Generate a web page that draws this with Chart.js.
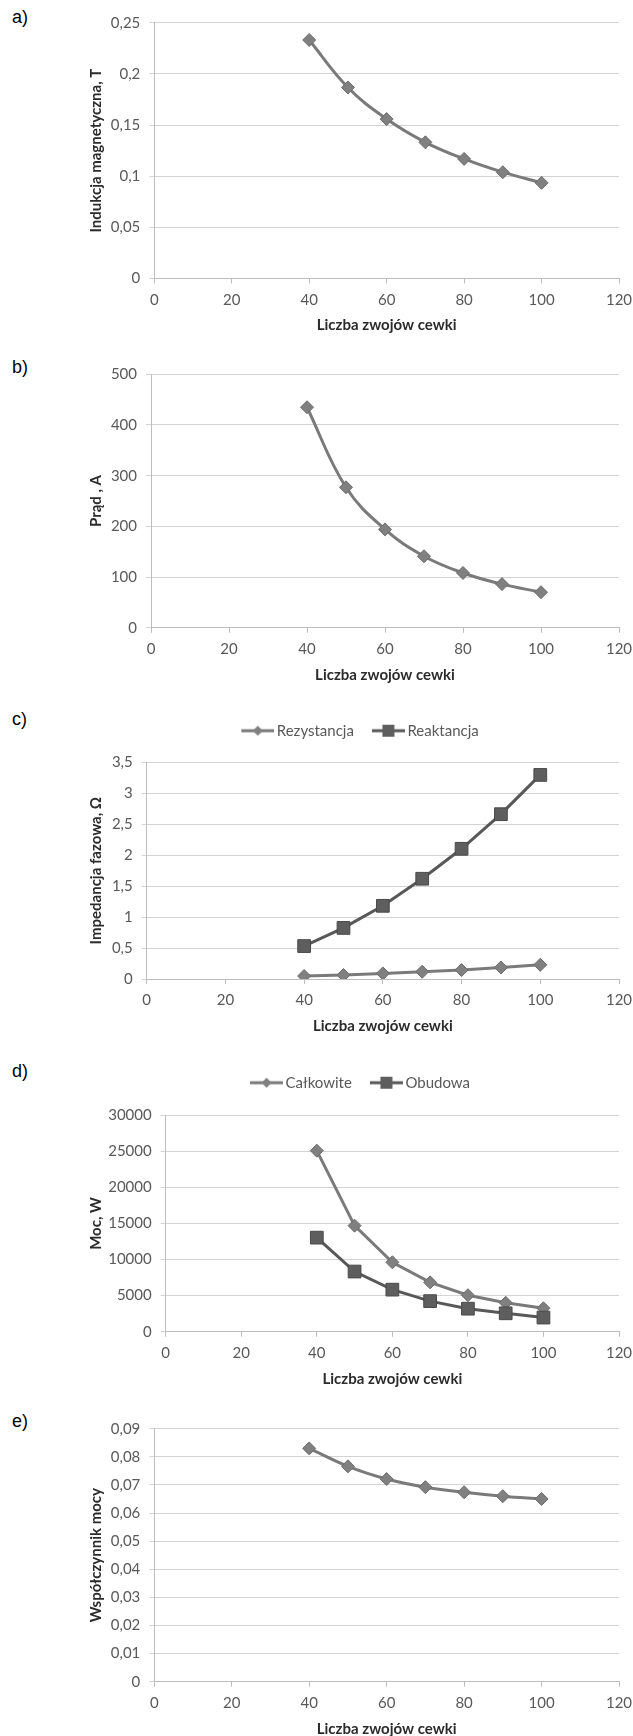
<!DOCTYPE html>
<html lang="pl">
<head>
<meta charset="utf-8">
<title>Charakterystyki cewki</title>
<script src="https://cdn.jsdelivr.net/npm/chart.js@4.4.1/dist/chart.umd.min.js"></script>
<style>
  html, body { margin: 0; padding: 0; background: #fff; overflow: hidden; }
  body { width: 633px; height: 1736px; position: relative; }
  .panel { position: absolute; left: 0; width: 633px; }
  .tag { position: absolute; left: 12px; font: 18px "Liberation Sans", Arial, sans-serif; line-height: 20px; color: #000; }
</style>
</head>
<body>
<div class="tag" style="top:7px">a)</div>
<div class="tag" style="top:357px">b)</div>
<div class="tag" style="top:709px">c)</div>
<div class="tag" style="top:1061px">d)</div>
<div class="tag" style="top:1411px">e)</div>

<div class="panel" style="top:0px;height:340px"><canvas id="chartA"></canvas></div>
<div class="panel" style="top:350px;height:340px"><canvas id="chartB"></canvas></div>
<div class="panel" style="top:690px;height:350px"><canvas id="chartC"></canvas></div>
<div class="panel" style="top:1045px;height:350px"><canvas id="chartD"></canvas></div>
<div class="panel" style="top:1400px;height:340px"><canvas id="chartE"></canvas></div>

<script>
// data
const turns = [40, 50, 60, 70, 80, 90, 100];
const induction = [0.2331, 0.1867, 0.1558, 0.1331, 0.1169, 0.1039, 0.0935];
const current = [435, 277, 194, 141, 108, 86, 70];
const resistance = [0.048, 0.064, 0.090, 0.117, 0.144, 0.186, 0.229];
const reactance = [0.532, 0.825, 1.182, 1.619, 2.103, 2.662, 3.296];
const powerTotal = [25100, 14700, 9620, 6840, 5060, 4010, 3250];
const powerHousing = [13040, 8340, 5830, 4240, 3190, 2550, 1960];
const powerFactor = [0.0830, 0.0766, 0.0721, 0.0692, 0.0674, 0.0660, 0.0650];

const xTicks = [0, 20, 40, 60, 80, 100, 120];
const yTicksA = [0, 0.05, 0.1, 0.15, 0.2, 0.25];
const yTicksB = [0, 100, 200, 300, 400, 500];
const yTicksC = [0, 0.5, 1, 1.5, 2, 2.5, 3, 3.5];
const yTicksD = [0, 5000, 10000, 15000, 20000, 25000, 30000];
const yTicksE = [0, 0.01, 0.02, 0.03, 0.04, 0.05, 0.06, 0.07, 0.08, 0.09];

const xTitle = "Liczba zwojów cewki";

const PAD_LEFT = 101, PAD_RIGHT = 14;
const GRID = "#d3d3d3", AXIS = "#bdbdbd", TICK = "#595959", TITLE = "#2b2b2b";
const LIGHT = "#7a7a7a", DARK = "#585858";

function fmt(v) {
    return String(Math.round(v * 10000) / 10000).replace(".", ",");
}

function points(arr) {
    return turns.map((x, i) => ({ x: x, y: arr[i] }));
}

function diamondSeries(label, arr, tension) {
    return {
        label: label,
        data: points(arr),
        borderColor: LIGHT,
        backgroundColor: "#808080",
        borderWidth: 3,
        tension: tension,
        pointStyle: "rectRot",
        pointRadius: 6.5,
        pointBorderColor: "#6c6c6c",
        pointBorderWidth: 1,
        order: 0
    };
}

function squareSeries(label, arr) {
    return {
        label: label,
        data: points(arr),
        borderColor: DARK,
        backgroundColor: "#5e5e5e",
        borderWidth: 3,
        tension: 0,
        pointStyle: "rect",
        pointRadius: 9,
        pointBorderColor: "#4a4a4a",
        pointBorderWidth: 1,
        order: -1
    };
}

// small line+marker picture used as legend symbol
function legendIcon(kind) {
    const c = document.createElement("canvas");
    c.width = 38;
    c.height = 16;
    const g = c.getContext("2d");
    g.strokeStyle = kind === "rect" ? DARK : LIGHT;
    g.lineWidth = 3;
    g.beginPath();
    g.moveTo(5, 8);
    g.lineTo(38, 8);
    g.stroke();
    g.fillStyle = kind === "rect" ? "#5e5e5e" : "#808080";
    if (kind === "rect") {
        g.fillRect(15.5, 2, 12, 12);
    } else {
        g.beginPath();
        g.moveTo(21.5, 3);
        g.lineTo(26.5, 8);
        g.lineTo(21.5, 13);
        g.lineTo(16.5, 8);
        g.closePath();
        g.fill();
    }
    return c;
}

// pushes the plot down below the legend
function legendGap(extra) {
    return {
        id: "legendGap",
        afterInit(chart) {
            const lg = chart.legend;
            if (!lg) return;
            const fit = lg.fit;
            lg.fit = function () {
                fit.call(this);
                this.height += extra;
            };
        }
    };
}

function buildChart(id, o) {
    const legendOpts = o.icons ? {
        display: true,
        position: "top",
        labels: {
            usePointStyle: true,
            pointStyleWidth: 28,
            padding: 18,
            color: TICK,
            font: { size: 15 },
            generateLabels: (chart) => {
                const items = Chart.defaults.plugins.legend.labels.generateLabels(chart);
                items.sort((a, b) => a.datasetIndex - b.datasetIndex);
                items.forEach(it => { it.pointStyle = o.icons[it.datasetIndex]; });
                return items;
            }
        }
    } : { display: false };

    return new Chart(document.getElementById(id), {
        type: "line",
        data: { datasets: o.datasets },
        options: {
            responsive: true,
            maintainAspectRatio: false,
            animation: false,
            layout: { padding: { left: PAD_LEFT, right: PAD_RIGHT, top: o.padTop, bottom: o.padBottom } },
            plugins: {
                legend: legendOpts,
                tooltip: { enabled: false }
            },
            scales: {
                x: {
                    type: "linear",
                    min: 0,
                    max: 120,
                    afterBuildTicks: s => { s.ticks = xTicks.map(v => ({ value: v })); },
                    afterFit: s => { s.paddingLeft = 0; s.paddingRight = 0; },
                    grid: { drawOnChartArea: false, drawTicks: true, tickLength: 5, color: AXIS },
                    border: { display: true, color: AXIS },
                    ticks: { color: TICK, padding: 7.5, font: { size: 15 }, maxRotation: 0, autoSkip: false },
                    title: {
                        display: true, text: xTitle, color: TITLE,
                        font: { size: 15, weight: "bold" }, padding: { top: 0, bottom: 0 }
                    }
                },
                y: {
                    min: 0,
                    max: o.yTicks[o.yTicks.length - 1],
                    afterBuildTicks: s => { s.ticks = o.yTicks.map(v => ({ value: v })); },
                    afterFit: s => { s.width = o.plotLeft - PAD_LEFT; },
                    grid: { color: GRID, tickLength: 5 },
                    border: { display: true, color: AXIS },
                    ticks: { color: TICK, padding: 9, font: { size: 15 }, autoSkip: false, callback: v => fmt(v) },
                    title: {
                        display: true, text: o.yTitle, color: TITLE,
                        font: { size: 15, weight: "bold" }, padding: { top: -14, bottom: 0 }
                    }
                }
            }
        },
        plugins: o.icons ? [legendGap(o.gap)] : []
    });
}

let drawn = false;
function drawAll() {
    if (drawn) return;
    drawn = true;
    Chart.defaults.font.family = "Lato, 'Open Sans', sans-serif";

    buildChart("chartA", {
        datasets: [diamondSeries("Indukcja", induction, 0.4)],
        yTicks: yTicksA, yTitle: "Indukcja magnetyczna, T",
        plotLeft: 154.3, padTop: 22.7, padBottom: 5.5
    });
    buildChart("chartB", {
        datasets: [diamondSeries("Prąd", current, 0.4)],
        yTicks: yTicksB, yTitle: "Prąd , A",
        plotLeft: 151, padTop: 24.3, padBottom: 6.3
    });
    buildChart("chartC", {
        datasets: [diamondSeries("Rezystancja", resistance, 0), squareSeries("Reaktancja", reactance)],
        yTicks: yTicksC, yTitle: "Impedancja fazowa, Ω",
        plotLeft: 146.7, padTop: 15.2, padBottom: 5, gap: 14.1,
        icons: [legendIcon("diamond"), legendIcon("rect")]
    });
    buildChart("chartD", {
        datasets: [diamondSeries("Całkowite", powerTotal, 0), squareSeries("Obudowa", powerHousing)],
        yTicks: yTicksD, yTitle: "Moc, W",
        plotLeft: 165.7, padTop: 12.2, padBottom: 7.3, gap: 15.1,
        icons: [legendIcon("diamond"), legendIcon("rect")]
    });
    buildChart("chartE", {
        datasets: [diamondSeries("Współczynnik mocy", powerFactor, 0.4)],
        yTicks: yTicksE, yTitle: "Współczynnik mocy",
        plotLeft: 154.3, padTop: 28.7, padBottom: 2.3
    });
}

if (document.fonts && document.fonts.load) {
    Promise.all([
        document.fonts.load("15px Lato"),
        document.fonts.load("bold 15px Lato")
    ]).then(drawAll, drawAll);
    setTimeout(drawAll, 500);
} else {
    drawAll();
}
</script>
</body>
</html>
